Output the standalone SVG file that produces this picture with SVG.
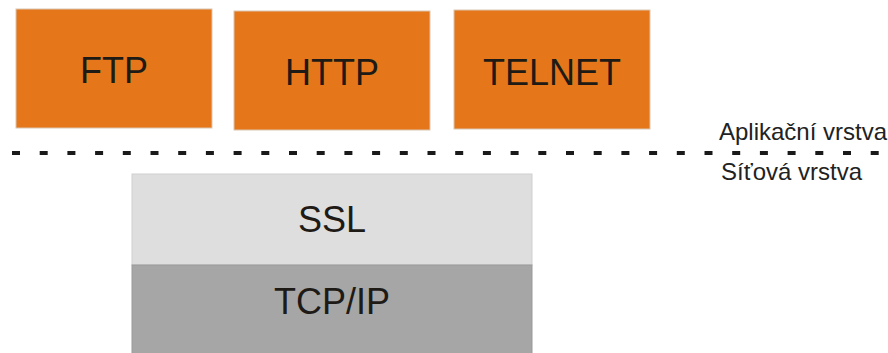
<svg xmlns="http://www.w3.org/2000/svg" width="888" height="353" viewBox="0 0 888 353">
<style>
.app{fill:#e5771a;stroke:#d9c6b0;stroke-width:1}
.big{font-family:"Liberation Sans",Arial,sans-serif;font-size:36px;fill:#1e1a16;text-anchor:middle}
.lbl{font-family:"Liberation Sans",Arial,sans-serif;font-size:24px;fill:#222}
</style>
<rect width="888" height="353" fill="#fff"/>
<g id="ftp"><rect class="app" x="16" y="9" width="196" height="119"/><text class="big" x="114" y="83">FTP</text></g>
<g id="http"><rect class="app" x="234" y="11" width="196" height="119"/><text class="big" x="332" y="85">HTTP</text></g>
<g id="telnet"><rect class="app" x="454" y="10" width="196" height="119"/><text class="big" x="552" y="85">TELNET</text></g>
<g id="divider"><line x1="12" y1="153" x2="888" y2="153" stroke="#1a1a1a" stroke-width="4" stroke-dasharray="8 19.7"/></g>
<g id="labels">
<text class="lbl" x="719" y="140">Aplikační vrstva</text>
<text class="lbl" x="721" y="180">Síťová vrstva</text>
</g>
<g id="ssl"><rect x="132" y="174" width="400" height="91" fill="#dedede" stroke="#cfcfcf"/><text class="big" x="332" y="232">SSL</text></g>
<g id="tcpip"><rect x="132" y="265" width="400" height="90" fill="#a6a6a6" stroke="#999"/><text class="big" x="332" y="314">TCP/IP</text></g>
</svg>
